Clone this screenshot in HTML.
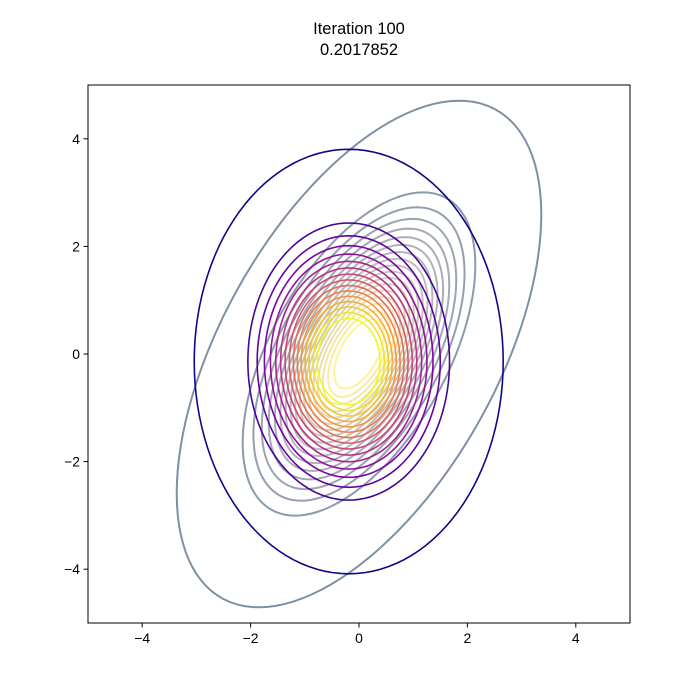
<!DOCTYPE html>
<html><head><meta charset="utf-8"><style>
body{margin:0;background:#fff;}
svg{display:block;font-family:"Liberation Sans","DejaVu Sans",sans-serif;}
</style></head><body>
<svg id="chart" width="700" height="700">
<text x="359" y="34" text-anchor="middle" font-size="16.5">Iteration 100</text>
<text x="359" y="55" text-anchor="middle" font-size="16.5">0.2017852</text>
<g id="plot"></g>
</svg>
<script>
// data
const xTicks=[-4,-2,0,2,4];
const yTicks=[-4,-2,0,2,4];
const targetLevels=[0.0035,0.1,0.15,0.2,0.25,0.3,0.35,0.4,0.45,0.5,0.55,0.6,0.65,0.7,0.75,0.8,0.85,0.9];
const targetMean=[0,0];
const targetCov=[1,0.77,1.96]; // sxx, sxy, syy
const approxLevels=[0.0045,0.1,0.15,0.2,0.25,0.3,0.35,0.4,0.45,0.5,0.55,0.6,0.65,0.7,0.75,0.8];
const approxMean=[-0.19,-0.14];
const approxStd=[0.867,1.2];

const L=88,R=630,T=85,B=623;
const sx=v=>L+(v+5)/10*(R-L);
const sy=v=>B-(v+5)/10*(B-T);
const NS="http://www.w3.org/2000/svg";
const plot=document.getElementById('plot');
function mk(t,a){const e=document.createElementNS(NS,t);for(const k in a)e.setAttribute(k,a[k]);return e;}
function lerpC(stops,t){t=Math.max(0,Math.min(1,t));const n=stops.length-1;const i=Math.min(n-1,Math.floor(t*n));const f=t*n-i;
 const a=stops[i],b=stops[i+1];const h=s=>[1,3,5].map(j=>parseInt(s.substr(j,2),16));const A=h(a),B2=h(b);
 return 'rgb('+A.map((v,k)=>Math.round(v+(B2[k]-v)*f)).join(',')+')';}
const cividis=['#00224e','#414d6b','#7c7b78','#bcaf6f','#fee838'];
const plasma=['#0d0887','#7e03a8','#cc4778','#f89540','#f0f921'];
function ellipsePath(mx,my,l11,l21,l22,r){let d='';for(let i=0;i<=120;i++){const th=i/120*2*Math.PI;const u=Math.cos(th),v=Math.sin(th);
 const x=mx+r*l11*u,y=my+r*(l21*u+l22*v);d+=(i?'L':'M')+sx(x).toFixed(2)+','+sy(y).toFixed(2);}return d+'Z';}
const clip=mk('clipPath',{id:'clp'});clip.appendChild(mk('rect',{x:L,y:T,width:R-L,height:B-T}));plot.appendChild(clip);
const g=mk('g',{'clip-path':'url(#clp)'});plot.appendChild(g);
// target
const l11=Math.sqrt(targetCov[0]),l21=targetCov[1]/l11,l22=Math.sqrt(targetCov[2]-l21*l21);
const tmin=targetLevels[0],tmax=targetLevels[targetLevels.length-1];
targetLevels.forEach((lv,i)=>{const r=Math.sqrt(-2*Math.log(lv));
 const p=mk('path',{d:ellipsePath(targetMean[0],targetMean[1],l11,l21,l22,r),fill:'none',stroke:lerpC(cividis,(lv-tmin)/(tmax-tmin)),'stroke-opacity':0.5,'stroke-width':2});
 
 
 g.appendChild(p);});
const amin=approxLevels[0],amax=approxLevels[approxLevels.length-1];
approxLevels.forEach((lv,i)=>{const r=Math.sqrt(-2*Math.log(lv));
 const p=mk('path',{d:ellipsePath(approxMean[0],approxMean[1],approxStd[0],0,approxStd[1],r),fill:'none',stroke:lerpC(plasma,(lv-amin)/(amax-amin)),'stroke-width':1.6});
 
 
 g.appendChild(p);});
// frame
const fr=mk('rect',{x:L,y:T,width:R-L,height:B-T,fill:'none',stroke:'#000','stroke-width':1});


plot.appendChild(fr);
xTicks.forEach(v=>{const x=sx(v);
 const t=mk('line',{x1:x,x2:x,y1:B,y2:B+4.5,stroke:'#000'});
 
 
 plot.appendChild(t);
 const s=mk('text',{x:x,y:B+20,'text-anchor':'middle','font-size':13.9});s.textContent=(v<0?'\u2212'+(-v):v);
 
 
 plot.appendChild(s);});
yTicks.forEach(v=>{const y=sy(v);
 const t=mk('line',{x1:L-4.5,x2:L,y1:y,y2:y,stroke:'#000'});
 
 
 plot.appendChild(t);
 const s=mk('text',{x:L-8,y:y+5,'text-anchor':'end','font-size':13.9});s.textContent=(v<0?'\u2212'+(-v):v);
 
 
 plot.appendChild(s);});
</script>
</body></html>
